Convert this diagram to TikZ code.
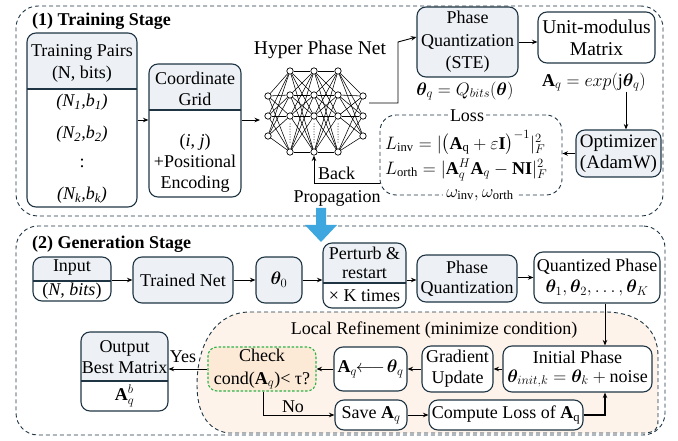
\RequirePackage{fix-cm}
\documentclass[tikz,border=0pt]{standalone}
\usepackage{amsmath,bm}
\usepackage{fontspec}
\setmainfont{Liberation Serif}
\usetikzlibrary{arrows.meta}
\definecolor{bordc}{HTML}{1F3544}
\definecolor{hdrc}{HTML}{EDF1F5}
\definecolor{peachc}{HTML}{FDF3EA}
\definecolor{checkc}{HTML}{FCEAD7}
\definecolor{greenc}{HTML}{2CB34A}
\definecolor{bluec}{HTML}{3EA7DF}
\newcommand\fs{\fontsize{18}{22}\selectfont}
\newcommand\bxnode[7][]{\node[#1, minimum width={(#5-#3)*1pt}, minimum height={(#6-#4)*1pt}] (#2) at ({(#3+#5)/2},{(#4+#6)/2}) {#7};}
\newcommand\splitbx[6]{%
  \begin{scope}
    \clip[rounded corners=9pt] (#2,#3) rectangle (#4,#5);
    \fill[hdrc] (#2,#3) rectangle (#4,#6);
  \end{scope}
  \draw[bordc, line width=1.1pt] (#2,#6) -- (#4,#6);
  \bxnode[box]{#1}{#2}{#3}{#4}{#5}{}}
\tikzset{
  box/.style={draw=bordc, line width=1.1pt, rounded corners=9pt, align=center, inner sep=0pt, font=\fs},
  fbox/.style={box, fill=hdrc},
  txt/.style={align=center, inner sep=0pt, font=\fs},
  arr/.style={-{Stealth[length=5.5pt,width=4.5pt]}, line width=0.9pt, black},
  stage/.style={draw=bordc, dash pattern=on 4pt off 3pt, line width=0.9pt, rounded corners=22pt},
  lossbox/.style={draw=bordc, dash pattern=on 4pt off 3pt, line width=0.9pt, rounded corners=16pt},
  neur/.style={circle, draw=black, fill=white, line width=0.7pt, minimum size=6.4pt, inner sep=0pt},
  edge/.style={line width=0.55pt, black},
}
\begin{document}
\begin{tikzpicture}[x=1pt,y=-1pt]
\useasboundingbox (0,0) rectangle (678,441);

% ---------- stage frames ----------
\bxnode[stage]{stageone}{16}{6}{663}{216}{}
\bxnode[stage]{stagetwo}{16}{226}{665}{435}{}
\node[txt, anchor=west, font=\fs\bfseries] (t1) at (32,21) {(1) Training Stage};
\node[txt, anchor=west, font=\fs\bfseries] (t2) at (32,244) {(2) Generation Stage};

% ---------- Training stage ----------
\splitbx{tp}{27}{33}{137}{207}{89}
\node[txt] (tph) at (82,63) {Training Pairs\\(N, bits)};
\node[txt] (tp1) at (82,102) {\textit{(N\textsubscript{1},b\textsubscript{1})}};
\node[txt] (tp2) at (82,134) {\textit{(N\textsubscript{2},b\textsubscript{2})}};
\node[txt] (tp3) at (82,163) {:};
\node[txt] (tp4) at (82,195) {\textit{(N\textsubscript{k},b\textsubscript{k})}};

\splitbx{cg}{149}{64}{241}{197}{110}
\node[txt, font=\fontsize{18}{21}\selectfont] (cgh) at (195,89) {Coordinate\\Grid};
\node[txt, font=\fontsize{18}{21}\selectfont] (cgb) at (195,163) {(\textit{i}, \textit{j})\\+Positional\\Encoding};

% neural net
\node[txt, font=\fontsize{19.5}{22}\selectfont] (hpn) at (320,50) {Hyper Phase Net};
\foreach \i/\y in {1/96,2/116,3/136} \node[neur] (a\i) at (268,\y) {};
\foreach \l/\x in {b/290,c/314,d/338}
  \foreach \i/\y in {1/71,2/95,3/116,4/152} \node[neur] (\l\i) at (\x,\y) {};
\foreach \i/\y in {1/96,2/116,3/136} \node[neur] (e\i) at (363,\y) {};
\foreach \i in {1,2,3} \foreach \j in {1,2,3,4} {
  \draw[edge] (a\i) -- (b\j);
  \draw[edge] (d\j) -- (e\i);}
\foreach \i in {1,2,3,4} \foreach \j in {1,2,3,4} {
  \draw[edge] (b\i) -- (c\j);
  \draw[edge] (c\i) -- (d\j);}
\foreach \x in {290,314,338}
  \draw[line width=1pt, dash pattern=on 0pt off 2.6pt, line cap=round] (\x,124) -- (\x,144);
\coordinate (netin) at (260,120);
\coordinate (netout) at (369,103);

\bxnode[fbox, font=\fontsize{18}{22.5}\selectfont]{pq}{417}{7}{518}{77}{Phase\\Quantization\\(STE)}
\node[txt] (thq) at (465,91) {$\bm{\theta}_q = Q_{bits}(\bm{\theta})$};
\bxnode[box, font=\fontsize{19.5}{22}\selectfont]{um}{538}{12}{655}{63}{Unit-modulus\\Matrix}
\node[txt] (aq) at (594,82) {$\mathbf{A}_q = exp(\mathrm{j}\bm{\theta}_q)$};
\bxnode[fbox, font=\fontsize{19}{21}\selectfont]{opt}{576}{130}{661}{177}{Optimizer\\(AdamW)}

\bxnode[lossbox]{loss}{380}{115}{562}{195}{}
\node[txt, fill=white, inner xsep=2pt] (losst) at (467,116) {Loss};
\node[txt, fill=white, inner xsep=3pt] (omg) at (480,195) {$\omega_{\text{inv}}, \omega_{\text{orth}}$};
\node[txt, anchor=west] (linv) at (385,143) {$L_{\text{inv}} = |\big(\mathbf{A}_\mathrm{q} + \varepsilon\mathbf{I}\big)^{-1}|_F^2$};
\node[txt, anchor=west] (lorth) at (385,170) {$L_{\text{orth}} = |\mathbf{A}_q^H\mathbf{A}_q - \mathbf{NI}|_F^2$};

\node[txt, anchor=west] (back) at (318,173) {Back};
\node[txt] (prop) at (337,198) {Propagation};
\coordinate (bp) at (0,183);
\coordinate (c398) at (398,0);
\coordinate (c626) at (626,0);

% training arrows
\draw[arr] (tp.east) -- (tp.east -| cg.west);
\draw[arr] (cg.east |- netin) -- (netin);
\draw[arr] (netout) -| (c398 |- pq.west) -- ([yshift=5pt]pq.west);
\draw[arr] (pq.east) -- (pq.east -| um.west);
\draw[arr] (aq.south -| c626) -- (opt.north -| c626);
\draw[arr] (opt.west) -- (opt.west -| loss.east);
\draw[arr] (loss.west |- bp) -| (c4.south);

% blue arrow
\fill[bluec] (316,208) -- (326,208) -- (326,225) -- (337,225) -- (321,242) -- (305,225) -- (316,225) -- cycle;

% ---------- Generation stage ----------
\path[draw=bordc, fill=peachc, dash pattern=on 4pt off 3pt, line width=0.9pt]
  (250,312) -- (607,312) .. controls (640,313) and (658,330) .. (658,356)
  -- (658,420) .. controls (658,430) and (655,432) .. (645,433)
  -- (228,433) .. controls (207,430) and (197,412) .. (197,385)
  .. controls (197,345) and (215,312) .. (250,312) -- cycle;
\node[txt] (lr) at (434,330) {Local Refinement (minimize condition)};

\splitbx{in}{33}{257}{111}{301}{281}
\node[txt] (inh) at (72,268) {Input};
\node[txt] (inb) at (72,291) {(\textit{N, bits})};
\bxnode[fbox]{tn}{133}{257}{233}{303}{Trained Net}
\bxnode[fbox]{th}{256}{257}{302}{303}{$\bm{\theta}_0$}
\splitbx{pr}{323}{243}{406}{308}{283}
\node[txt, font=\fontsize{18}{19}\selectfont] (prh) at (364.5,263) {Perturb \&\\restart};
\node[txt] (prb) at (364.5,296) {× K times};
\bxnode[fbox, font=\fontsize{18}{20}\selectfont]{pqq}{417}{255}{517}{302}{Phase\\Quantization}
\bxnode[box, font=\fontsize{18}{21}\selectfont]{qp}{534}{252}{660}{303}{Quantized Phase\\$\bm{\theta}_1, \bm{\theta}_2, \dots, \bm{\theta}_K$}

\splitbx{out}{81}{332}{168}{411}{381}
\node[txt, font=\fontsize{18}{21}\selectfont] (outh) at (124.5,357) {Output\\Best Matrix};
\node[txt] (outb) at (124.5,396) {$\mathbf{A}_q^b$};
\bxnode[box, draw=greenc, fill=checkc, dash pattern=on 2.5pt off 1.8pt, font=\fontsize{18}{23}\selectfont]{chk}{208}{347}{316}{391}{Check\\cond($\mathbf{A}_q$)< τ?}
\bxnode[box, fill=white]{aqt}{334}{347}{407}{391}{$\mathbf{A}_q\!\!\longleftarrow\!\bm{\theta}_q$}
\bxnode[box, fill=white, font=\fontsize{18}{21}\selectfont]{gu}{422}{346}{493}{392}{Gradient\\Update}
\bxnode[box, fill=white, font=\fontsize{18}{19}\selectfont]{ip}{503}{346}{652}{392}{Initial Phase\\$\bm{\theta}_{init,k} = \bm{\theta}_k + \text{noise}$}
\bxnode[box, fill=white]{sv}{335}{400}{407}{430}{Save $\mathbf{A}_q$}
\bxnode[box, fill=white]{cl}{429}{400}{583}{430}{Compute Loss of $\mathbf{A}_\mathrm{q}$}

\node[txt] (yes) at (183,357) {Yes};
\node[txt] (no) at (293,407) {No};
\coordinate (r1) at (0,280);
\coordinate (c605) at (605,0);
\coordinate (c263) at (263,0);

\draw[arr] (in.east |- r1) -- (tn.west |- r1);
\draw[arr] (tn.east |- r1) -- (th.west |- r1);
\draw[arr] (th.east |- r1) -- (pr.west |- r1);
\draw[arr] (pr.east |- r1) -- (pqq.west |- r1);
\draw[arr] (pqq.east |- qp.west) -- (qp.west);
\draw[arr] (qp.south -| c605) -- (ip.north -| c605);
\draw[arr] (ip.west) -- (gu.east);
\draw[arr] (gu.west) -- (aqt.east);
\draw[arr] (aqt.west) -- (chk.east);
\draw[arr] (chk.west) -- (chk.west -| out.east);
\draw[arr] (chk.south -| c263) |- (sv.west);
\draw[arr] (sv.east) -- (cl.west);
\draw[arr, line width=1.3pt] (cl.east) -| (ip.south -| c605);
\end{tikzpicture}
\end{document}
